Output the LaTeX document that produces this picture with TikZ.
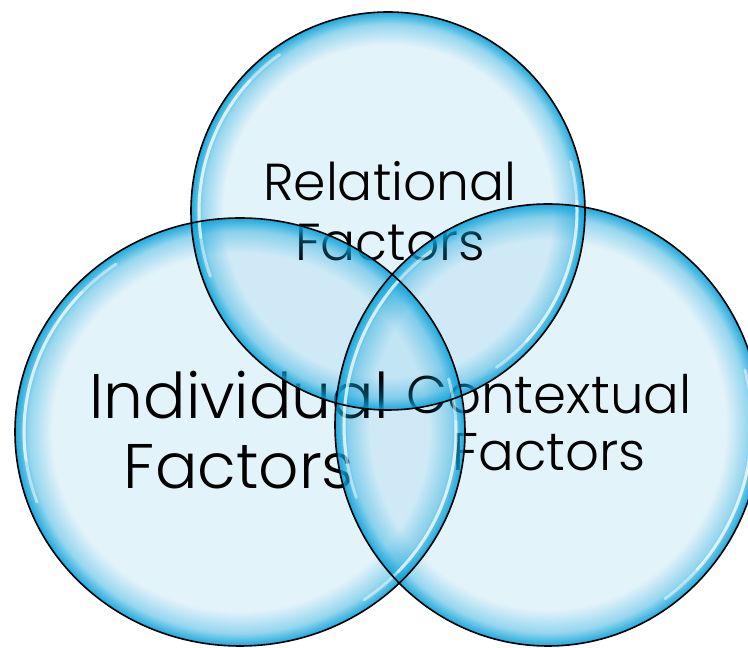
\documentclass[tikz,border=0pt]{standalone}
\usepackage{fontspec}
\setmainfont{Poppins}[UprightFont=* Light]
\usetikzlibrary{fadings}
\definecolor{bubIn}{HTML}{A2D7EE}
\definecolor{bubRim}{HTML}{0CA3DA}
% opaque only in a thin ring at the edge of the path
\pgfdeclareradialshading{rimmask}{\pgfpoint{0bp}{0bp}}{color(0bp)=(black); color(20.8bp)=(black);
  color(23.4bp)=(black!62!white); color(25bp)=(white); color(50bp)=(white)}
\pgfdeclarefading{rimfade}{\pgfuseshading{rimmask}}
\tikzset{
  bubble/.style={fill=bubIn,fill opacity=.3},
  rim/.style={fill=bubRim,fill opacity=.95,path fading=rimfade},
  edge/.style={draw=black,line width=1.6pt},
  shine/.style={draw=white,line width=3pt,draw opacity=.5,line cap=round},
  caption/.style={align=center,text=black,inner sep=0pt},
}

\begin{document}
\begin{tikzpicture}[x=1pt,y=1pt]
  \useasboundingbox (0,0) rectangle (748,648);
  \clip (0,0) rectangle (748,648);
  % light inside of the three bubbles
  \fill[bubble] (388,437) ellipse [x radius=197,y radius=199];
  \fill[bubble] (240,216) ellipse [x radius=225,y radius=214];
  \fill[bubble] (548,223) ellipse [x radius=213,y radius=221];
  % captions
  \node[caption,font=\fontsize{52}{60}\selectfont] (relational) at (390,437) {Relational\\Factors};
  \node[caption,font=\fontsize{63}{70}\selectfont] (individual) at (239,218) {Individual\\Factors};
  \node[caption,font=\fontsize{53}{57}\selectfont] (contextual) at (549,225) {Contextual\\Factors};
  % cyan rims
  \fill[rim] (388,437) ellipse [x radius=197,y radius=199];
  \fill[rim] (240,216) ellipse [x radius=225,y radius=214];
  \fill[rim] (548,223) ellipse [x radius=213,y radius=221];
  % glossy streaks
  \foreach \d in {0,12} {
    \draw[shine] (388,437) ++(125+\d:189 and 191) arc[start angle=125+\d,end angle=200-\d,x radius=189,y radius=191];
    \draw[shine] (388,437) ++(-55+\d:189 and 191) arc[start angle=-55+\d,end angle=15-\d,x radius=189,y radius=191];
    \draw[shine] (240,216) ++(125+\d:216 and 205) arc[start angle=125+\d,end angle=200-\d,x radius=216,y radius=205];
    \draw[shine] (240,216) ++(-55+\d:216 and 205) arc[start angle=-55+\d,end angle=15-\d,x radius=216,y radius=205];
    \draw[shine] (548,223) ++(125+\d:204 and 212) arc[start angle=125+\d,end angle=200-\d,x radius=204,y radius=212];
    \draw[shine] (548,223) ++(-55+\d:204 and 212) arc[start angle=-55+\d,end angle=15-\d,x radius=204,y radius=212];
  }
  % outlines
  \draw[edge] (388,437) ellipse [x radius=197,y radius=199];
  \draw[edge] (240,216) ellipse [x radius=225,y radius=214];
  \draw[edge] (548,223) ellipse [x radius=213,y radius=221];
\end{tikzpicture}
\end{document}
